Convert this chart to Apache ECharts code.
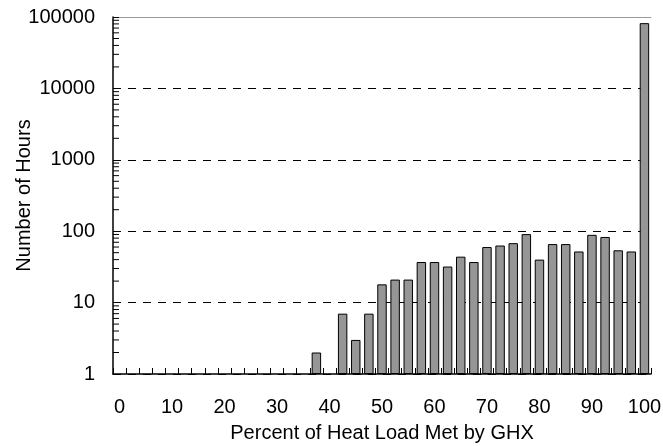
<!DOCTYPE html>
<html>
<head>
<meta charset="utf-8">
<script src="https://cdn.jsdelivr.net/npm/echarts@6/dist/echarts.min.js"></script>
<style>
html,body{margin:0;padding:0;background:#fff;}
#chart{width:663px;height:446px;}
</style>
</head>
<body>
<div id="chart"></div>
<script>
// Categories: percent of heat load met by GHX (bins of 2.5%)
var categories = ['0','2.5','5','7.5','10','12.5','15','17.5','20','22.5','25','27.5','30','32.5','35','37.5','40','42.5','45','47.5','50','52.5','55','57.5','60','62.5','65','67.5','70','72.5','75','77.5','80','82.5','85','87.5','90','92.5','95','97.5','100'];
// Number of hours in each bin (null = no hours)
var hours = [null,null,null,null,null,null,null,null,null,null,null,null,null,null,null,2,null,7,3,7,18,21,21,37,37,32,44,37,60,63,68,91,40,66,66,52,89,83,54,52,82000];
// Y axis range and minor tick values (log scale)
var yMin = 1;
var yMax = 100000;
var minorTickValues = [];
[1,10,100,1000,10000].forEach(function(d){ for (var k=2;k<=9;k++) minorTickValues.push(d*k); });

var FONT = "'Liberation Sans', Arial, Helvetica, sans-serif";
var chart = echarts.init(document.getElementById('chart'), null, {renderer:'canvas'});
chart.setOption({
  animation:false,
  backgroundColor:'#fff',
  grid:{left:113, right:12, top:17, bottom:72, containLabel:false, outerBoundsMode:'none'},
  xAxis:[{
    type:'category',
    data:categories,
    boundaryGap:true,
    name:'Percent of Heat Load Met by GHX',
    nameLocation:'middle',
    nameGap:49,
    nameMoveOverlap:false,
    nameTextStyle:{fontFamily:FONT, fontSize:20, color:'#000'},
    axisLine:{show:true, lineStyle:{color:'#000', width:1.5}},
    axisTick:{show:true, inside:true, length:6, interval:0, lineStyle:{color:'#000', width:1}},
    axisLabel:{interval:3, fontFamily:FONT, fontSize:20, color:'#000', margin:23},
    splitLine:{show:false}
  },{
    type:'category',
    data:categories,
    position:'top',
    axisLine:{show:true, lineStyle:{color:'#9a9a9a', width:1}},
    axisTick:{show:false},
    axisLabel:{show:false},
    splitLine:{show:false}
  }],
  yAxis:{
    type:'log',
    logBase:10,
    min:yMin,
    max:yMax,
    name:'Number of Hours',
    nameLocation:'middle',
    nameGap:79,
    nameMoveOverlap:false,
    nameRotate:90,
    nameTextStyle:{fontFamily:FONT, fontSize:20, color:'#000'},
    axisLine:{show:true, lineStyle:{color:'#000', width:1.5}},
    axisTick:{show:true, inside:true, length:6, lineStyle:{color:'#000'}},
    axisLabel:{fontFamily:FONT, fontSize:20, color:'#000', margin:18, formatter:function(v){return String(Math.round(v));}},
    splitLine:{show:true, lineStyle:{color:'#000', type:[8,7], width:1}}
  },
  series:[{
    type:'bar',
    data:hours,
    barWidth:'72%',
    itemStyle:{color:'#969696', borderColor:'#000', borderWidth:1},
    z:3
  },{
    type:'custom',
    silent:true,
    clip:false,
    z:4,
    data:minorTickValues.map(function(v){return [0, v];}),
    renderItem:function(params, api){
      var p = api.coord([0, api.value(1)]);
      var band = api.size([1, 0])[0];
      var x0 = p[0] - band/2;
      return {
        type:'line',
        shape:{x1:x0, y1:p[1], x2:x0+6, y2:p[1]},
        style:{stroke:'#000', lineWidth:1}
      };
    }
  }]
});
</script>
</body>
</html>
